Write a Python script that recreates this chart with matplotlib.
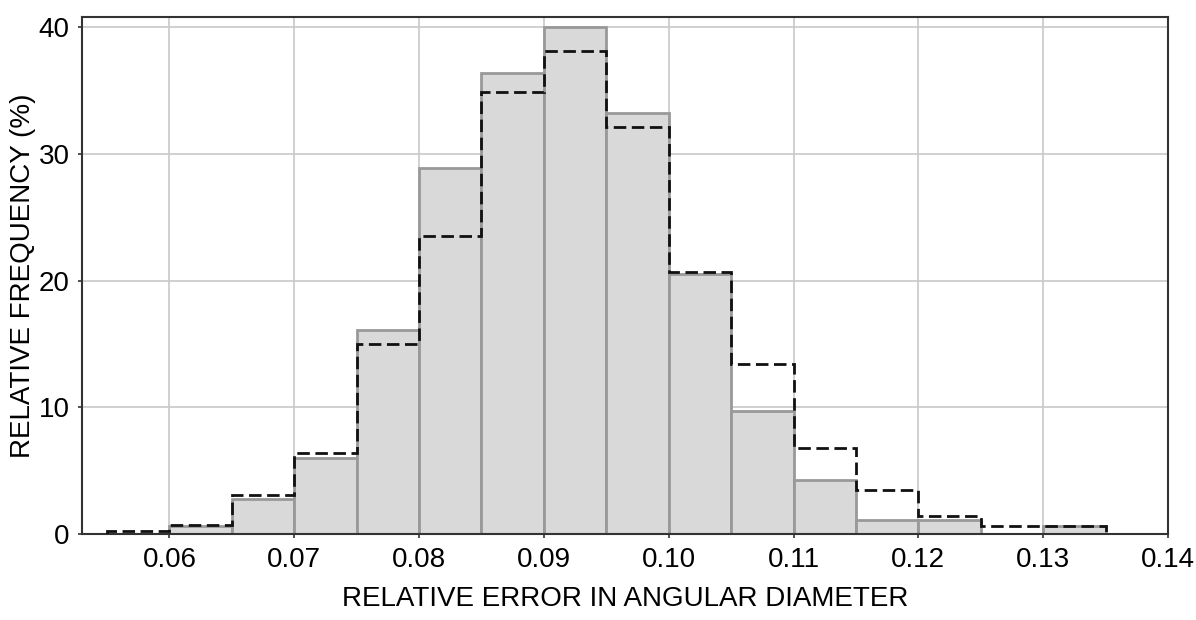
import numpy as np
import matplotlib
matplotlib.use("Agg")
import matplotlib.pyplot as plt

plt.rcParams["font.family"] = ["Liberation Sans", "DejaVu Sans"]

# Histogram bins (left edges) and relative frequencies in percent
bar_edges = [0.060, 0.065, 0.070, 0.075, 0.080, 0.085, 0.090, 0.095,
             0.100, 0.105, 0.110, 0.115, 0.120, 0.125, 0.130, 0.135]
bar_freq = [0.6, 2.8, 6.0, 16.1, 28.9, 36.4, 40.0, 33.2,
            20.5, 9.7, 4.3, 1.1, 1.1, 0.0, 0.6]

# Dashed comparison histogram
step_edges = [0.055, 0.060, 0.065, 0.070, 0.075, 0.080, 0.085, 0.090,
              0.095, 0.100, 0.105, 0.110, 0.115, 0.120, 0.125, 0.130, 0.135]
step_freq = [0.2, 0.7, 3.1, 6.4, 15.0, 23.5, 34.9, 38.1,
             32.1, 20.7, 13.4, 6.8, 3.5, 1.4, 0.6, 0.6]

xticks = [0.06, 0.07, 0.08, 0.09, 0.10, 0.11, 0.12, 0.13, 0.14]
xtick_labels = ["0.06", "0.07", "0.08", "0.09", "0.10", "0.11", "0.12", "0.13", "0.14"]
yticks = [0, 10, 20, 30, 40]

fig = plt.figure(figsize=(11.96, 6.2), dpi=100)
ax = fig.add_axes([0.0686, 0.1387, 0.9080, 0.8339])

widths = np.diff(bar_edges)
ax.bar(bar_edges[:-1], bar_freq, width=widths, align="edge",
       color="#d9d9d9", edgecolor="#999999", linewidth=2, zorder=2)

ax.stairs(step_freq, step_edges, color="#111111", linewidth=2,
          linestyle=(0, (4.5, 2)), zorder=3)

ax.set_xlim(0.053, 0.14)
ax.set_ylim(0, 40.8)
ax.set_xticks(xticks)
ax.set_xticklabels(xtick_labels)
ax.set_yticks(yticks)

ax.grid(True, color="#c8c8c8", linewidth=1.2, zorder=0)
ax.set_axisbelow(True)

for s in ax.spines.values():
    s.set_color("#333333")
    s.set_linewidth(1.5)

ax.tick_params(axis="both", direction="out", length=3, width=1.2,
               color="#333333", labelsize=20, pad=6)

ax.set_xlabel("RELATIVE ERROR IN ANGULAR DIAMETER", fontsize=20, labelpad=10)
ax.set_ylabel("RELATIVE FREQUENCY (%)", fontsize=20, labelpad=2)

fig.savefig("out.png", dpi=100)
